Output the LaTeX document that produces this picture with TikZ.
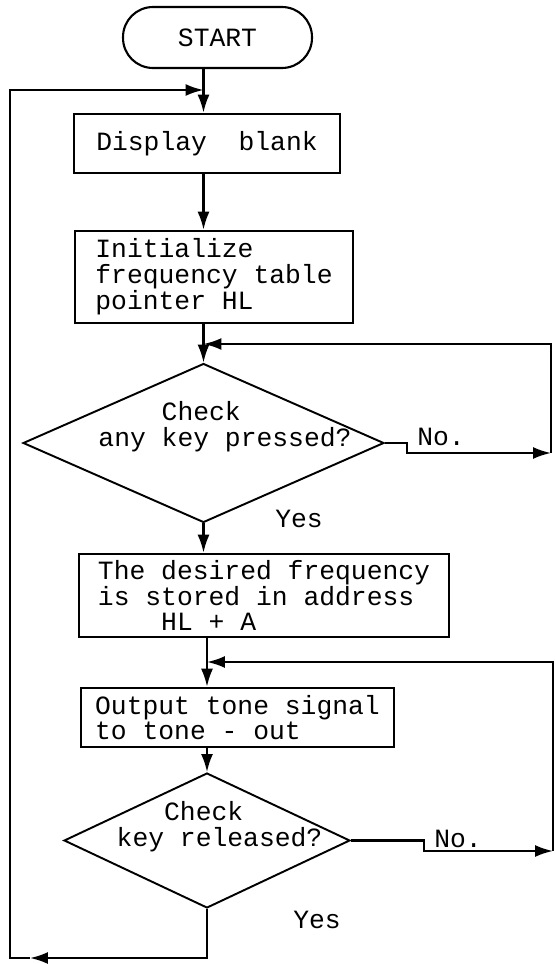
\documentclass[tikz,border=0pt]{standalone}
\usepackage{fontspec}
\setmainfont{Liberation Mono}
\usetikzlibrary{shapes,arrows.meta,positioning,calc}

\begin{document}
\begin{tikzpicture}[x=0.02cm, y=-0.02cm,
        >={Latex[length=3.6mm,width=2.4mm]},
        font=\fontsize{15}{14.7}\selectfont,
        term/.style={rectangle, rounded corners=0.6cm, draw, line width=1.2pt,
                     minimum width=3.78cm, minimum height=1.22cm, inner sep=0pt},
        proc/.style={rectangle, draw, line width=1.5pt, align=left, inner sep=0pt},
        decision/.style={diamond, draw, line width=1.1pt, inner sep=0pt},
        txt/.style={align=left, inner sep=0pt},
        line/.style={line width=1.2pt}
    ]
        \useasboundingbox (0,0) rectangle (555,964);

        % Start and boxes
        \node[term] (start) at (217.5,37.5) {START};
        \node[proc, minimum width=5.32cm, minimum height=1.18cm] (disp) at (207,143.5) {Display\ \ blank};
        \node[proc, minimum width=5.56cm, minimum height=1.84cm] (init) at (214,277)
            {Initialize\\frequency table\\pointer HL};
        \node[proc, minimum width=7.4cm, minimum height=1.66cm] (store) at (264,595.5)
            {The desired frequency\\is stored in address\\\hspace*{2.4em}HL + A};
        \node[proc, minimum width=6.26cm, minimum height=1.18cm] (tone) at (237.5,717.5)
            {Output tone signal\\to tone - out};

        % Decisions
        \node[decision, minimum width=7.22cm, minimum height=3.18cm] (chk1) at (203.5,443) {};
        \node[txt] (chk1txt) at (225,427) {\hspace*{2.4em}Check\\any key pressed?};
        \node[decision, minimum width=5.72cm, minimum height=2.7cm] (chk2) at (207,840.5) {};
        \node[txt] (chk2txt) at (219.5,827) {\hspace*{1.8em}Check\\key released?};

        % Main flow
        \draw[line,->] (start.south -| chk1) -- (disp.north -| chk1);
        \draw[line,->] (disp.south -| chk1) -- (init.north -| chk1);
        \draw[line,->] (init.south -| chk1) -- (chk1.north);
        \draw[line,->] (chk1.south) -- (store.north -| chk1);
        \draw[line,->] (store.south -| chk2) -- (tone.north -| chk2);
        \draw[line,->] (tone.south -| chk2) -- (chk2.north);

        % No branches
        \coordinate (no1) at (551,453);
        \coordinate (back1) at (551,344);
        \draw[line,->] (chk1.east) -- ++(22,0) |- (no1);
        \draw[line,->] (no1) -- (back1) -- (back1 -| chk1);
        \node[txt] (no1lbl) at (441,437) {No.};

        \coordinate (no2) at (553,851);
        \coordinate (back2) at (553,662);
        \draw[line,->] (chk2.east) -- ++(73,0) |- (no2);
        \draw[line,->] (no2) -- (back2) -- (back2 -| chk2);
        \node[txt] (no2lbl) at (458,839) {No.};

        % Yes labels
        \node[txt] (yes1) at (299,519) {Yes};
        \node[txt] (yes2) at (317,920) {Yes};

        % Return loop
        \coordinate (ret) at (30,958);
        \coordinate (lb) at (10,958);
        \coordinate (lt) at (10,90);
        \draw[line,->] (chk2.south) |- (ret);
        \draw[line,->] (ret) -- (lb) -- (lt) -- (lt -| chk1);
    \end{tikzpicture}
\end{document}
